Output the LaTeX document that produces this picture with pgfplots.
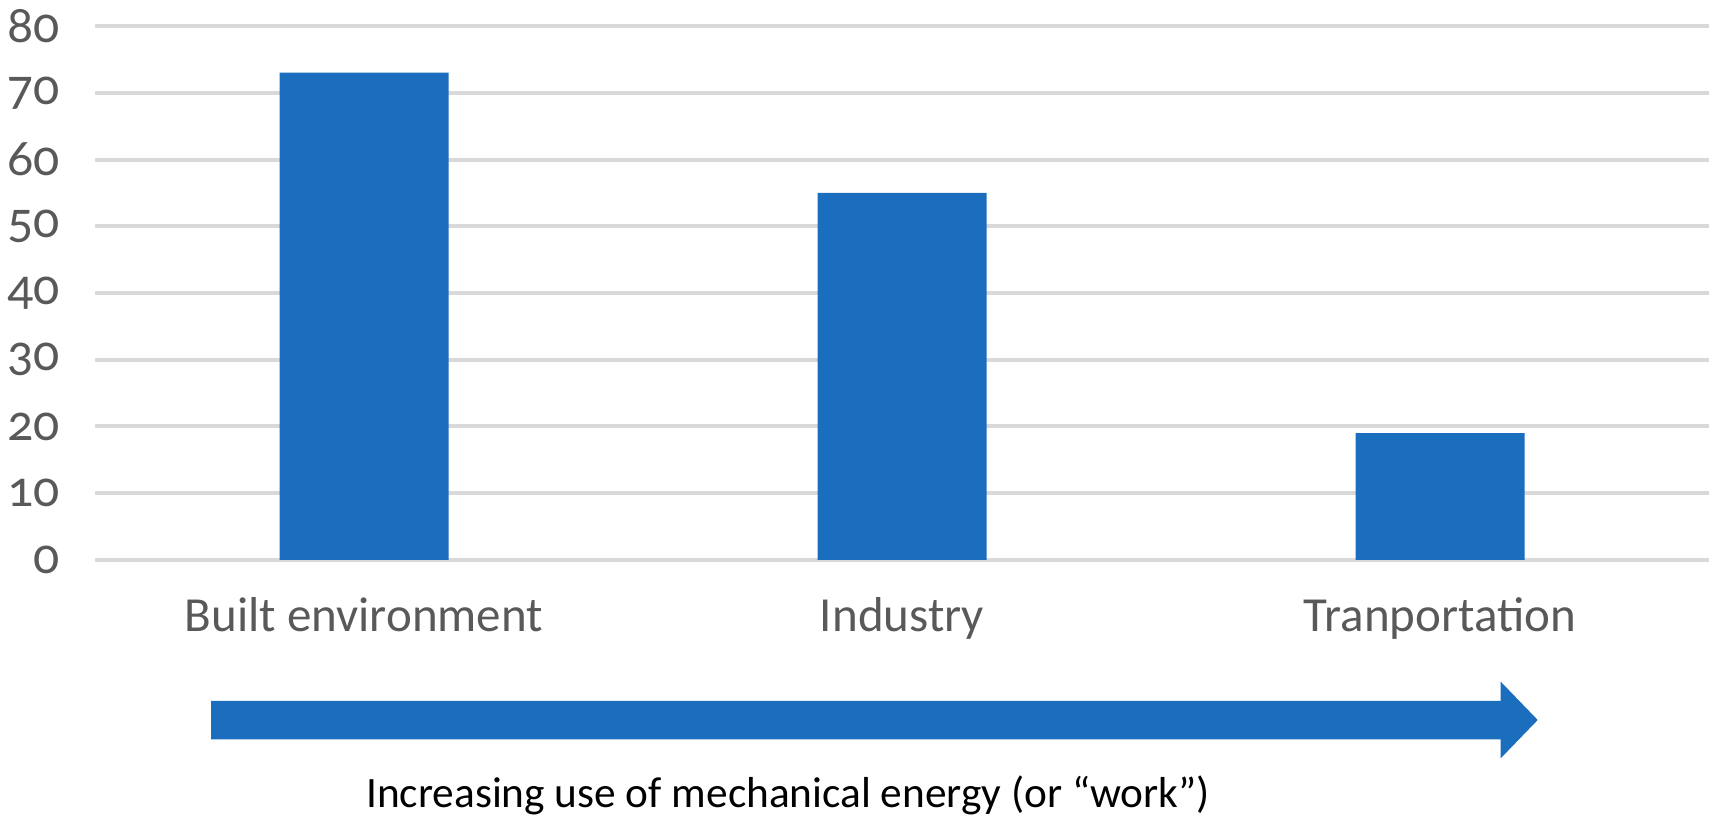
\documentclass[border=0pt]{standalone}
\usepackage{fontspec}
\setmainfont{Carlito}[Numbers=OldStyle]
\usepackage{pgfplots}
\pgfplotsset{compat=1.18}
\definecolor{barblue}{RGB}{27,109,190}
\definecolor{gridgray}{RGB}{217,217,217}
\definecolor{labelgray}{RGB}{89,89,89}
\begin{document}
\begin{tikzpicture}
\path[use as bounding box] (0,0) rectangle (512.7pt,245.4pt);
\begin{axis}[
  at={(28.5pt,77.4pt)}, anchor=south west,
  width=484.2pt, height=160.2pt, scale only axis,
  xmin=-0.5, xmax=2.5, ymin=0, ymax=80,
  xtick={0,1,2},
  xticklabels={Built environment, Industry, Tranportation},
  ytick={0,10,...,80},
  axis line style={draw=none},
  major tick length=0pt,
  ymajorgrids, grid style={gridgray, line width=1.2pt},
  /pgf/number format/assume math mode=true,
  tick label style={text=labelgray},
  yticklabel style={font=\fontsize{15.5}{19}\selectfont, anchor=east, xshift=-7pt},
  xticklabel style={font=\fontsize{14.7}{18}\selectfont, anchor=base, yshift=-21.6pt},
  clip=false,
]
\addplot[ybar, bar width=50.7pt, fill=barblue, draw=none] coordinates {(0,73) (1,55) (2,19)};
\end{axis}
\fill[barblue] (63.3pt,23.6pt) -- (63.3pt,35.1pt) -- (450.2pt,35.1pt) -- (450.2pt,40.9pt) -- (461.3pt,29.4pt) -- (450.2pt,17.9pt) -- (450.2pt,23.6pt) -- cycle;
\node[anchor=base, inner sep=0pt, font=\fontsize{13}{16}\selectfont] at (236.4pt,3pt) {Increasing use of mechanical energy (or “work”)};
\end{tikzpicture}
\end{document}
